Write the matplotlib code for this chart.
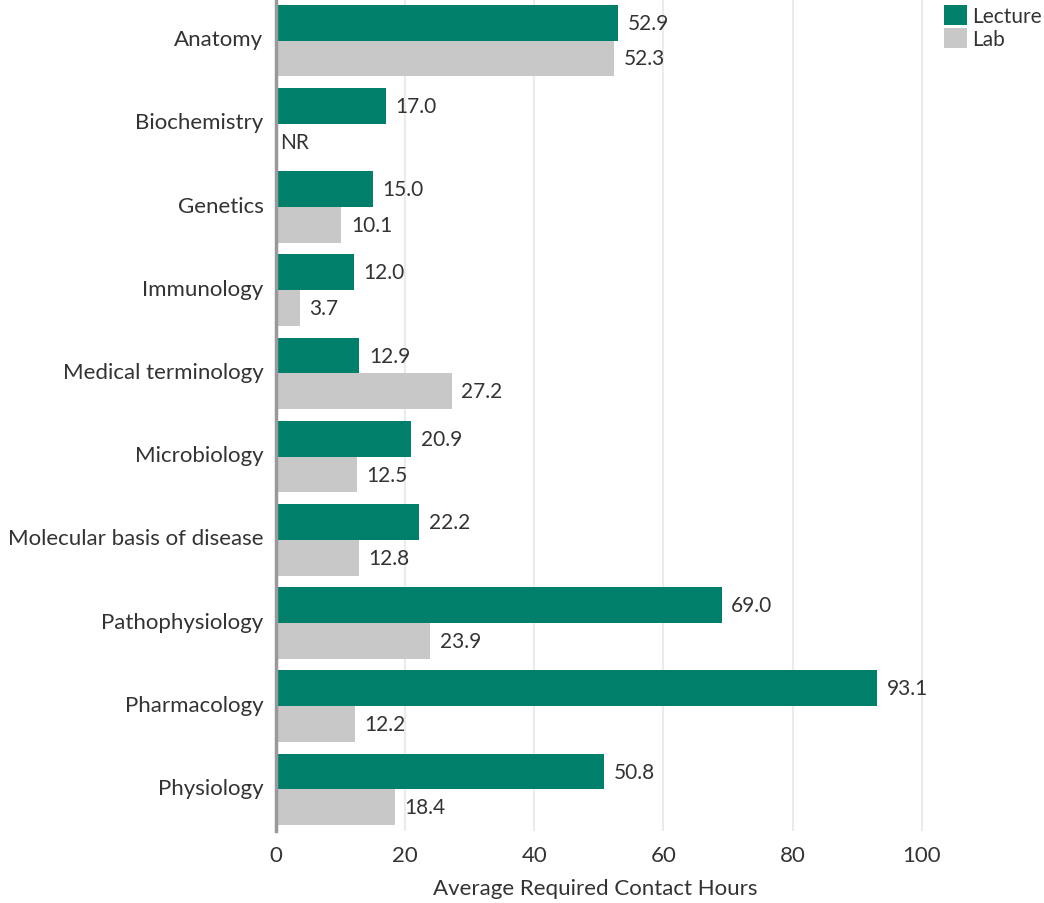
import matplotlib.pyplot as plt
import numpy as np

subjects = ["Anatomy", "Biochemistry", "Genetics", "Immunology",
            "Medical terminology", "Microbiology", "Molecular basis of disease",
            "Pathophysiology", "Pharmacology", "Physiology"]
lecture = [52.9, 17.0, 15.0, 12.0, 12.9, 20.9, 22.2, 69.0, 93.1, 50.8]
lab = [52.3, None, 10.1, 3.7, 27.2, 12.5, 12.8, 23.9, 12.2, 18.4]

green = "#00806A"
grey = "#C8C8C8"
text_col = "#333333"

plt.rcParams['font.family'] = ['Lato', 'DejaVu Sans']

fig = plt.figure(figsize=(10.44, 9.04), dpi=100)
ax = fig.add_axes([0.2644, 0.0796, 0.7317, 0.9204])

y = np.arange(len(subjects))
h = 0.43

lab_vals = [v if v is not None else 0 for v in lab]
ax.barh(y - h / 2, lecture, height=h, color=green, label="Lecture", zorder=3)
ax.barh(y + h / 2, lab_vals, height=h, color=grey, label="Lab", zorder=3)

# value labels next to each bar
for i in range(len(subjects)):
    ax.text(lecture[i] + 1.5, y[i] - h / 2, f"{lecture[i]:.1f}", va="center",
            ha="left", fontsize=15, color=text_col)
    lab_txt = "NR" if lab[i] is None else f"{lab[i]:.1f}"
    offset = 0.7 if lab[i] is None else 1.5
    ax.text(lab_vals[i] + offset, y[i] + h / 2, lab_txt, va="center",
            ha="left", fontsize=15, color=text_col)

ax.set_ylim(len(subjects) - 0.5, -0.5)
ax.set_xlim(0, 118.3)
ax.set_xticks([0, 20, 40, 60, 80, 100])
ax.set_yticks(y - 0.04)
ax.set_yticklabels(subjects)
ax.tick_params(axis="y", length=0, pad=9, labelsize=16, labelcolor=text_col)
ax.tick_params(axis="x", length=0, pad=10, labelsize=16, labelcolor=text_col)

ax.grid(axis="x", color="#EBEBEB", linewidth=1.5, zorder=0)
for s in ["top", "right", "bottom"]:
    ax.spines[s].set_visible(False)
ax.spines["left"].set_color("#999999")
ax.spines["left"].set_linewidth(2.5)
ax.spines["left"].set_zorder(4)

ax.set_xlabel("Average Required Contact Hours", fontsize=16, color=text_col)
ax.xaxis.set_label_coords(0.418, -0.056)

ax.legend(loc="upper right", bbox_to_anchor=(1.009, 1.006), bbox_transform=fig.transFigure,
          frameon=False, fontsize=15, handlelength=1.1, handleheight=1.1,
          handletextpad=0.25, labelspacing=0.1, borderaxespad=0.15, labelcolor=text_col)

fig.savefig("out.png", dpi=100)
